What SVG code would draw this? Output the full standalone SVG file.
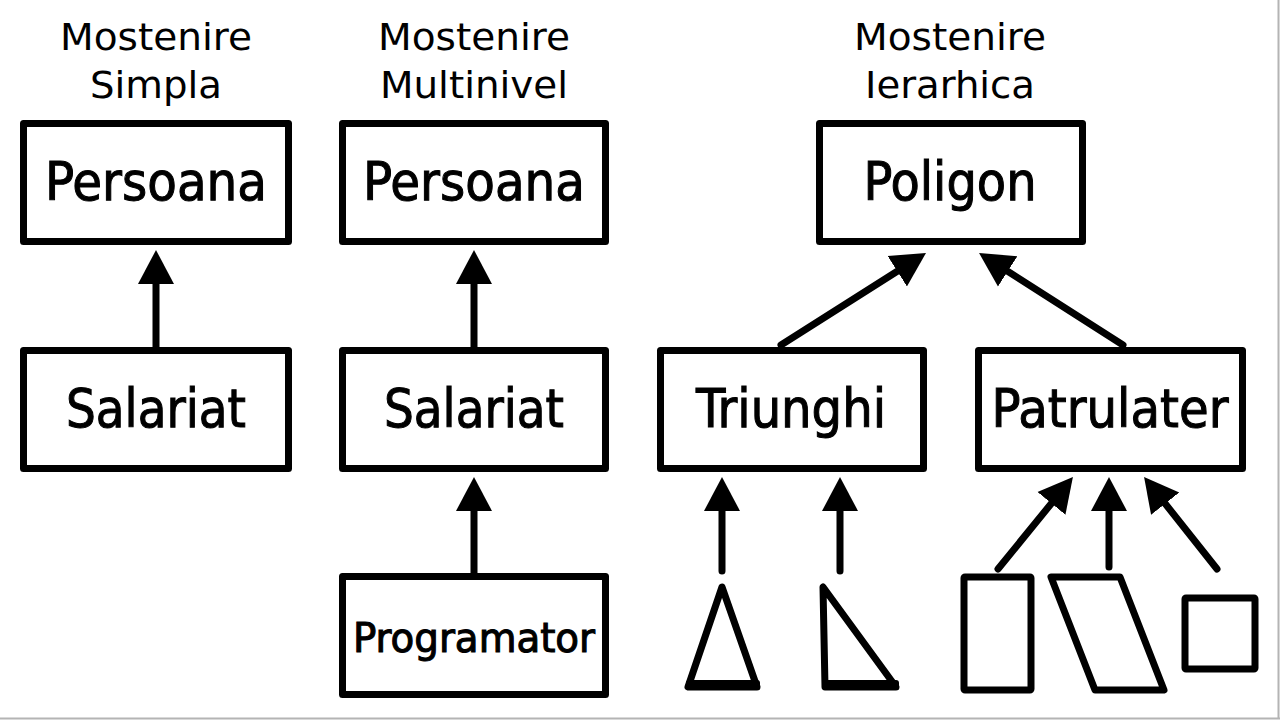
<svg xmlns="http://www.w3.org/2000/svg" width="1280" height="721" viewBox="0 0 1280 721">
<style>
.box{fill:#fff;stroke:#000;stroke-width:7;stroke-linejoin:round}
.lbl{font-family:"DejaVu Sans Condensed","DejaVu Sans",sans-serif;font-size:54px;fill:#000;stroke:#000;stroke-width:1;text-anchor:middle}
.ttl{font-family:"DejaVu Sans",sans-serif;font-size:38px;fill:#000;text-anchor:middle}
.con{stroke:#000;stroke-width:7;stroke-linecap:round;fill:none;marker-end:url(#ah)}
.shape{fill:#fff;stroke:#000;stroke-width:7;stroke-linejoin:round}
</style>
<defs>
<marker id="ah" markerUnits="userSpaceOnUse" markerWidth="40" markerHeight="40" viewBox="0 -20 40 40" refX="14" refY="0" orient="auto">
<path d="M0,-18 L34,0 L0,18 z" fill="#000"/>
</marker>
</defs>
<rect width="1280" height="721" fill="#fff"/>
<line x1="0" y1="718.5" x2="1280" y2="718.5" stroke="#b4b4b4" stroke-width="2"/>
<line x1="1278.5" y1="0" x2="1278.5" y2="718" stroke="#b4b4b4" stroke-width="2"/>

<g id="titles">
<text class="ttl" x="156" y="50" textLength="192" lengthAdjust="spacingAndGlyphs">Mostenire</text>
<text class="ttl" x="156" y="98" textLength="132" lengthAdjust="spacingAndGlyphs">Simpla</text>
<text class="ttl" x="474" y="50" textLength="192" lengthAdjust="spacingAndGlyphs">Mostenire</text>
<text class="ttl" x="474" y="98" textLength="188" lengthAdjust="spacingAndGlyphs">Multinivel</text>
<text class="ttl" x="950" y="50" textLength="192" lengthAdjust="spacingAndGlyphs">Mostenire</text>
<text class="ttl" x="950" y="98" textLength="170" lengthAdjust="spacingAndGlyphs">Ierarhica</text>
</g>

<g id="persoana1"><rect class="box" x="23.5" y="123.5" width="265" height="118"/><text class="lbl" x="156" y="200" textLength="222" lengthAdjust="spacingAndGlyphs">Persoana</text></g>
<g id="salariat1"><rect class="box" x="23.5" y="350.5" width="265" height="118"/><text class="lbl" x="156" y="427" textLength="180" lengthAdjust="spacingAndGlyphs">Salariat</text></g>
<g id="persoana2"><rect class="box" x="342.5" y="123.5" width="263" height="118"/><text class="lbl" x="474" y="200" textLength="222" lengthAdjust="spacingAndGlyphs">Persoana</text></g>
<g id="salariat2"><rect class="box" x="342.5" y="350.5" width="263" height="118"/><text class="lbl" x="474" y="427" textLength="180" lengthAdjust="spacingAndGlyphs">Salariat</text></g>
<g id="programator"><rect class="box" x="342.5" y="576.5" width="263" height="118"/><text class="lbl" x="474" y="652" style="font-size:40px" textLength="242" lengthAdjust="spacingAndGlyphs">Programator</text></g>
<g id="poligon"><rect class="box" x="819.5" y="123.5" width="263" height="118"/><text class="lbl" x="950" y="200" textLength="173" lengthAdjust="spacingAndGlyphs">Poligon</text></g>
<g id="triunghi"><rect class="box" x="660.5" y="350.5" width="263" height="118"/><text class="lbl" x="791" y="427" textLength="190" lengthAdjust="spacingAndGlyphs">Triunghi</text></g>
<g id="patrulater"><rect class="box" x="978.5" y="350.5" width="264" height="118"/><text class="lbl" x="1110" y="427" textLength="237" lengthAdjust="spacingAndGlyphs">Patrulater</text></g>

<g id="tri-isoscel"><polygon class="shape" points="722,587 688,687 757,687"/><rect x="686" y="680" width="74" height="10" rx="3" fill="#000"/></g>
<g id="tri-drept"><polygon class="shape" points="823,587 825,687 896,687"/><rect x="823" y="680" width="76" height="10" rx="3" fill="#000"/></g>
<g id="dreptunghi"><rect class="shape" x="964" y="577" width="67" height="113" rx="1"/></g>
<g id="paralelogram"><polygon class="shape" points="1051,577 1120,577 1164,690 1095,690"/></g>
<g id="patrat"><rect class="shape" x="1185" y="598" width="70" height="71" rx="1"/></g>

<g id="connectors">
<line class="con" x1="156" y1="347" x2="156" y2="270"/>
<line class="con" x1="474" y1="347" x2="474" y2="270"/>
<line class="con" x1="474" y1="573" x2="474" y2="497"/>
<line class="con" x1="781" y1="345" x2="909.1" y2="263.7"/>
<line class="con" x1="1123" y1="345" x2="995.9" y2="263.8"/>
<line class="con" x1="722" y1="571" x2="722" y2="497"/>
<line class="con" x1="840" y1="571" x2="840" y2="497"/>
<line class="con" x1="998" y1="569" x2="1060.3" y2="492.5"/>
<line class="con" x1="1109" y1="567" x2="1109" y2="497"/>
<line class="con" x1="1217" y1="569" x2="1156.5" y2="492.7"/>
</g>
</svg>
